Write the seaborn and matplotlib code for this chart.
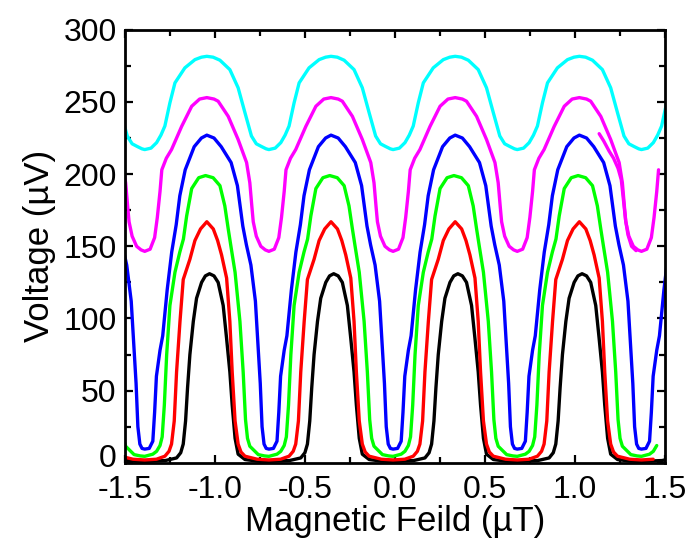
import numpy as np
import matplotlib
matplotlib.use("Agg")
import matplotlib.pyplot as plt
import matplotlib.transforms as mtransforms
import seaborn as sns
from matplotlib.ticker import MultipleLocator

# Field values (µT) of the voltage maxima, one per flux period
peak_centers = [-1.735, -1.045, -0.355, 0.335, 1.025, 1.715]

# One period of each trace: field offset from the maximum (µT) and voltage (µV)
black_dx = [-0.345, -0.23, -0.168, -0.145, -0.131, -0.118, -0.107, -0.094, -0.075, -0.057,
            -0.029, -0.008, 0.015, 0.04, 0.063, 0.091, 0.11, 0.128, 0.141, 0.157, 0.174, 0.212, 0.28]
black_v = [1.0, 1.6, 3.4, 7, 13, 29, 52, 75, 98, 114,
           125, 129.5, 131, 129.5, 125, 109, 86, 63, 40, 17, 6, 2.3, 1.2]

red_dx = [-0.345, -0.28, -0.233, -0.21, -0.196, -0.181, -0.168, -0.149, -0.131, -0.094, -0.066,
          -0.035, 0.0, 0.036, 0.06, 0.082, 0.11, 0.128, 0.141, 0.157, 0.174, 0.19, 0.212, 0.28]
red_v = [2.0, 2.5, 4.6, 8, 13, 29, 63, 98, 127, 141, 154,
         162, 167, 162, 154, 144, 128, 98, 63, 29, 13, 7.5, 4.6, 2.5]

green_dx = [-0.345, -0.3, -0.279, -0.26, -0.248, -0.236, -0.223, -0.205, -0.177, -0.15, -0.13,
            -0.112, -0.084, -0.045, -0.007, 0.035, 0.073, 0.1, 0.119, 0.134, 0.157, 0.184, 0.202,
            0.215, 0.226, 0.239, 0.286, 0.32]
green_v = [4.5, 6, 8, 12, 18, 40, 75, 109, 132, 146, 155,
           171, 190, 197.5, 199, 197.5, 192, 178, 162, 150, 132, 98, 63,
           30, 17, 11.5, 5.7, 4.8]

blue_dx = [-0.345, -0.32, -0.3, -0.29, -0.28, -0.26, -0.245, -0.22, -0.195, -0.17, -0.15, -0.12,
           -0.07, -0.03, 0.0, 0.04, 0.08, 0.135, 0.17, 0.2, 0.22, 0.245, 0.27, 0.283, 0.297, 0.307,
           0.318, 0.33]
blue_v = [9.5, 10, 15, 35, 60, 78, 88, 120, 146, 165, 185, 203,
          219, 225, 227, 225, 219, 208, 192, 164, 151, 137, 112, 85, 55, 25,
          13, 10]

magenta_dx = [-0.345, -0.315, -0.29, -0.275, -0.26, -0.25, -0.225, -0.196, -0.14, -0.084, -0.04,
              0.0, 0.04, 0.063, 0.119, 0.174, 0.221, 0.239, 0.25, 0.258, 0.275, 0.3, 0.325]
magenta_v = [146.5, 148, 156, 170, 188, 203, 211, 217, 233, 247, 252,
             253, 252, 250.5, 240, 224, 208, 194, 178, 167, 157, 150, 147.5]

cyan_dx = [-0.345, -0.31, -0.279, -0.255, -0.233, -0.205, -0.177, -0.122, -0.066, -0.03, 0.0,
           0.035, 0.073, 0.128, 0.174, 0.212, 0.248, 0.275, 0.304, 0.33]
cyan_v = [217, 218, 221.8, 227, 233.3, 249.4, 263.2, 273.6, 279.3, 281, 281.6,
          281, 278.9, 272.4, 259.8, 242.5, 226.4, 221, 219.1, 217.5]

# Second magenta branch recorded on the downward sweep near 1.2 µT
magenta_extra_x = [1.135, 1.16, 1.19, 1.215, 1.24, 1.258, 1.27, 1.282, 1.295, 1.315, 1.34]
magenta_extra_v = [228, 223, 216, 211, 204, 196, 182, 168, 158, 150, 147]

# Last field value of each sweep (µT)
sweep_end = {"black": 1.6, "red": 1.463, "green": 1.463, "blue": 1.6,
             "magenta": 1.47, "cyan": 1.6}

x_ticks = [-1.5, -1.0, -0.5, 0.0, 0.5, 1.0, 1.5]
x_tick_labels = ["-1.5", "-1.0", "-0.5", "0.0", "0.5", "1.0", "1.5"]
y_ticks = [0, 50, 100, 150, 200, 250, 300]


def trace(dx, v, x_end):
    xs = np.concatenate([c + np.asarray(dx) for c in peak_centers])
    ys = np.concatenate([np.asarray(v, dtype=float) for _ in peak_centers])
    keep = (xs >= -1.65) & (xs <= x_end)
    return xs[keep], ys[keep]


sns.set_theme(style="ticks")
plt.rcParams["font.family"] = ["Liberation Sans", "DejaVu Sans"]
plt.rcParams["axes.unicode_minus"] = False
plt.rcParams["text.color"] = "black"
plt.rcParams["axes.labelcolor"] = "black"

fig, ax = plt.subplots(figsize=(6.94, 5.51), dpi=100)
fig.subplots_adjust(left=0.18, right=0.958, bottom=0.16, top=0.946)

series = [
    ("black", black_dx, black_v, "#000000"),
    ("red", red_dx, red_v, "#ff0000"),
    ("green", green_dx, green_v, "#00ff00"),
    ("blue", blue_dx, blue_v, "#0000ff"),
    ("magenta", magenta_dx, magenta_v, "#ff00ff"),
    ("cyan", cyan_dx, cyan_v, "#00ffff"),
]
for name, dx, v, col in series:
    xs, ys = trace(dx, v, sweep_end[name])
    sns.lineplot(x=xs, y=ys, ax=ax, color=col, lw=2.4, sort=False, estimator=None)
    if name == "magenta":
        sns.lineplot(x=magenta_extra_x, y=magenta_extra_v, ax=ax, color=col, lw=2.4,
                     sort=False, estimator=None)

ax.set_xlim(-1.5, 1.5)
ax.set_ylim(0, 300)
ax.set_xticks(x_ticks)
ax.set_xticklabels(x_tick_labels)
ax.set_yticks(y_ticks)
ax.xaxis.set_minor_locator(MultipleLocator(0.25))
ax.yaxis.set_minor_locator(MultipleLocator(25))
ax.tick_params(which="both", direction="in", top=True, right=True, width=1.6,
               labelsize=23, colors="black")
ax.tick_params(axis="x", which="major", length=5.5, pad=8.5)
ax.tick_params(axis="y", which="major", length=5.5, pad=6)
ax.tick_params(which="minor", length=4)
for sp in ax.spines.values():
    sp.set_linewidth(2.0)
    sp.set_color("black")

# lift the "0" label a little so it clears the "-1.5" label below it
zero_label = ax.get_yticklabels()[0]
zero_label.set_transform(zero_label.get_transform() +
                         mtransforms.ScaledTranslation(0, 5 / 72, fig.dpi_scale_trans))

ax.set_xlabel("Magnetic Feild (µT)", fontsize=25, labelpad=0, color="black")
ax.set_ylabel("Voltage (µV)", fontsize=25, labelpad=5, color="black")

fig.savefig("out.png", dpi=100)
